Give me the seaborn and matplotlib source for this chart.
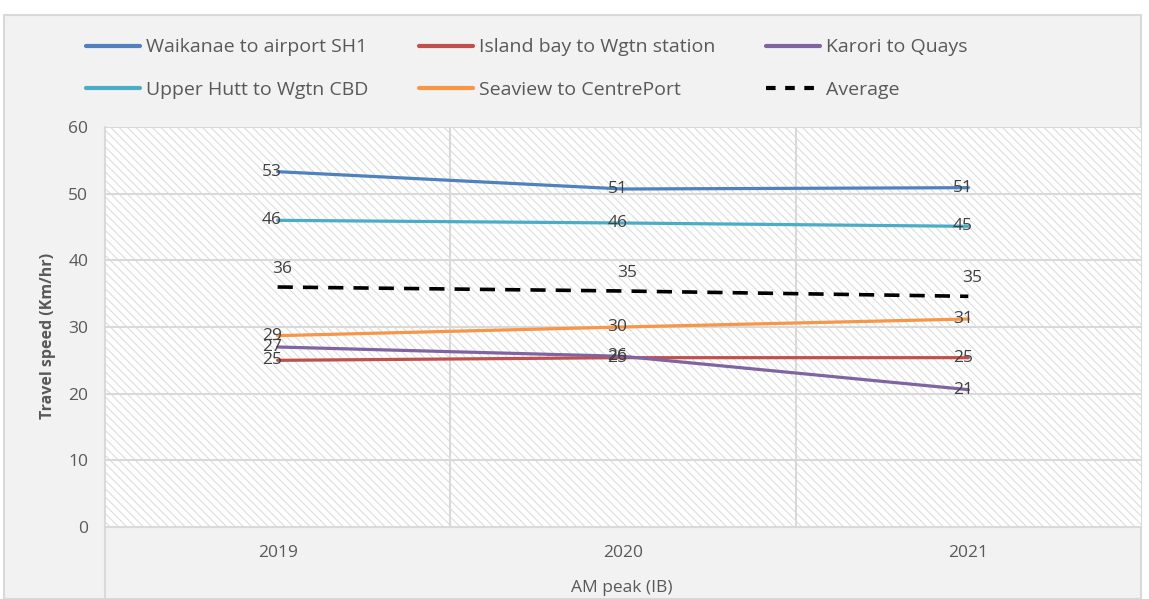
import matplotlib
matplotlib.use("Agg")
import matplotlib.pyplot as plt
from matplotlib import font_manager
from matplotlib.patches import Rectangle
from matplotlib.lines import Line2D
import seaborn as sns
import pandas as pd

years = ["2019", "2020", "2021"]
waikanae = [53.3, 50.7, 50.9]
island_bay = [25.0, 25.4, 25.4]
karori = [27.0, 25.6, 20.6]
upper_hutt = [46.0, 45.6, 45.1]
seaview = [28.7, 30.0, 31.2]
average = [36.0, 35.4, 34.6]

series_names = ["Waikanae to airport SH1", "Island bay to Wgtn station", "Karori to Quays",
                "Upper Hutt to Wgtn CBD", "Seaview to CentrePort", "Average"]
series_values = [waikanae, island_bay, karori, upper_hutt, seaview, average]
series_colours = ["#4F81BD", "#C0504D", "#8064A2", "#4BACC6", "#F79646", "black"]

installed = {f.name for f in font_manager.fontManager.ttflist}
main_font = "Open Sans" if "Open Sans" in installed else "DejaVu Sans"

sns.set_theme(style="white")
plt.rcParams["font.family"] = [main_font, "DejaVu Sans"]
plt.rcParams["hatch.color"] = "#d9d9d9"
plt.rcParams["hatch.linewidth"] = 0.7

grey_text = "#595959"
label_text = "#404040"
grid_col = "#d9d9d9"

fig = plt.figure(figsize=(11.49, 5.99), dpi=100)
fig.patch.set_facecolor("white")

# chart area background with border
fig.patches.append(Rectangle((4 / 1149, 0), 1137 / 1149, 584 / 599, transform=fig.transFigure,
                             facecolor="#f2f2f2", edgecolor=grid_col, linewidth=1.5, zorder=-10))

ax = fig.add_axes([105 / 1149, 72 / 599, 1036 / 1149, 400 / 599])
ax.set_zorder(1)
ax.set_facecolor("white")
ax.add_patch(Rectangle((0, 0), 1, 1, transform=ax.transAxes, facecolor="white",
                       edgecolor="#d9d9d9", hatch="\\\\\\\\", linewidth=0, zorder=0))

x_pos = list(range(len(years)))
df = pd.DataFrame({"x": x_pos * len(series_names),
                   "speed": [v for vals in series_values for v in vals],
                   "route": [n for n in series_names for _ in years]})

for name, colour in zip(series_names, series_colours):
    sub = df[df["route"] == name]
    dashed = name == "Average"
    sns.lineplot(data=sub, x="x", y="speed", ax=ax, color=colour, linewidth=2.6 if dashed else 2.3,
                 zorder=3, legend=False)
    if dashed:
        ax.lines[-1].set_dashes((4.2, 2.8))
    for xi, v in zip(sub["x"], sub["speed"]):
        if dashed:
            ax.annotate(f"{v:.0f}", (xi, v), xytext=(3, 13), textcoords="offset points",
                        ha="center", va="center", fontsize=12.5, color=label_text, zorder=4)
        else:
            ax.annotate(f"{v:.0f}", (xi, v), xytext=(-4, 0), textcoords="offset points",
                        ha="center", va="center", fontsize=12.5, color=label_text, zorder=4)

ax.set_xlim(-0.5, 2.5)
ax.set_ylim(0, 60)
ax.set_yticks(range(0, 61, 10))
ax.set_xticks(x_pos)
ax.set_xticklabels(years)
for b in [0.5, 1.5]:
    ax.axvline(b, color=grid_col, linewidth=1.5, zorder=1)
for yv in range(10, 61, 10):
    ax.axhline(yv, color=grid_col, linewidth=1.5, zorder=1)
ax.tick_params(axis="both", length=0, labelsize=12.5, colors=grey_text)
ax.tick_params(axis="y", pad=12)
ax.tick_params(axis="x", pad=13)
for side in ["top", "right", "left"]:
    ax.spines[side].set_visible(False)
ax.spines["bottom"].set_color(grid_col)
ax.spines["bottom"].set_linewidth(1.5)
ax.set_xlabel("")
ax.set_ylabel("")

# left boundary line running down to the chart bottom
fig.lines.append(Line2D([105 / 1149, 105 / 1149], [0, 472 / 599], transform=fig.transFigure,
                        color=grid_col, linewidth=1.5, zorder=5))

fig.text(48 / 1149, 1 - 336 / 599, "Travel speed (Km/hr)", rotation=90, ha="center", va="center",
         fontsize=11.5, fontweight="bold", color=grey_text)
fig.text(622 / 1149, 1 - 588 / 599, "AM peak (IB)", ha="center", va="center",
         fontsize=12.5, color=grey_text)

order = ["Waikanae to airport SH1", "Upper Hutt to Wgtn CBD", "Island bay to Wgtn station",
         "Seaview to CentrePort", "Karori to Quays", "Average"]
leg_handles = []
for name in order:
    colour = series_colours[series_names.index(name)]
    if name == "Average":
        leg_handles.append(Line2D([], [], color=colour, linewidth=3, dashes=(2.3, 2.3)))
    else:
        leg_handles.append(Line2D([], [], color=colour, linewidth=3))
leg = fig.legend(leg_handles, order, ncol=3, loc="upper left", bbox_to_anchor=(68 / 1149, 1 - 21 / 599),
                 frameon=False, handlelength=2.8, handletextpad=0.3,
                 columnspacing=2.6, labelspacing=1.25, prop={"size": 14})
for t in leg.get_texts():
    t.set_color(grey_text)

fig.savefig("out.png", dpi=100)
